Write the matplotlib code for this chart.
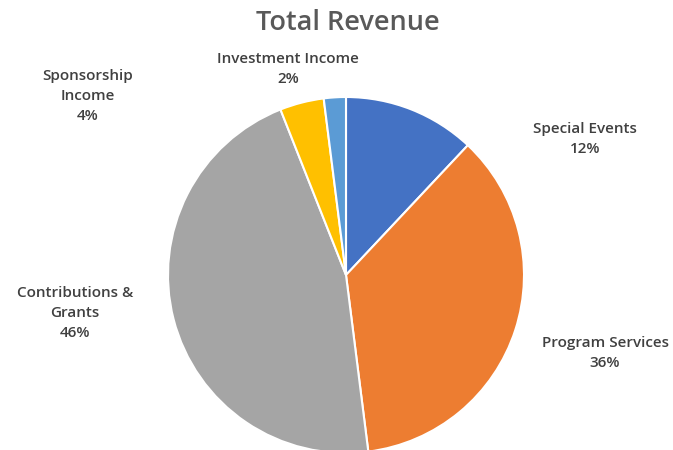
import matplotlib
matplotlib.use('Agg')
import matplotlib.pyplot as plt

plt.rcParams['font.family'] = ['Open Sans', 'DejaVu Sans']

labels = ['Special Events', 'Program Services', 'Contributions &\nGrants', 'Sponsorship\nIncome', 'Investment Income']
shares = [12, 36, 46, 4, 2]
colors = ['#4472C4', '#ED7D31', '#A5A5A5', '#FFC000', '#5B9BD5']

# label centres in pixels (x, y from top)
label_px = [(585, 139), (605, 353), (75, 313), (88, 96), (288, 69)]

W, H = 673, 450
cx, cy, r = 346, 275, 178

fig = plt.figure(figsize=(W / 100, H / 100), dpi=100)
ax = fig.add_axes([0, 0, 1, 1])

ax.pie(shares, colors=colors, startangle=90, counterclock=False, radius=1,
       wedgeprops={'edgecolor': 'white', 'linewidth': 1.5})
ax.set_xlim(-cx / r, (W - cx) / r)
ax.set_ylim(-(H - cy) / r, cy / r)
ax.set_aspect('auto')
ax.axis('off')

for lab, s, (px, py) in zip(labels, shares, label_px):
    ax.text((px - cx) / r, (cy - py) / r, '%s\n%d%%' % (lab, s), ha='center', va='center',
            fontsize=11, fontweight='semibold', color='#404040', linespacing=1.55)

fig.text(348 / W, 1 - 23 / H, 'Total Revenue', ha='center', va='center',
         fontsize=19.5, fontweight='semibold', color='#595959')

fig.savefig('out.png', dpi=100)
